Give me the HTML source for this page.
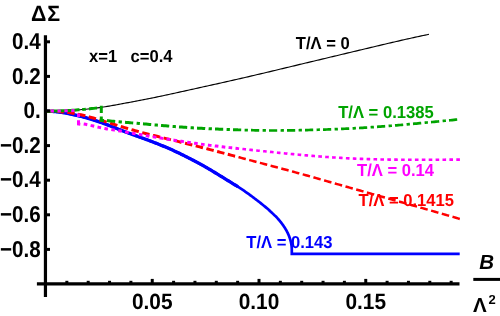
<!DOCTYPE html>
<html><head><meta charset="utf-8"><title>plot</title>
<style>
html,body{margin:0;padding:0;background:#fff;}
body{width:500px;height:316px;overflow:hidden;}
svg{display:block;will-change:transform;font-family:"Liberation Sans",sans-serif;font-weight:bold;text-rendering:geometricPrecision;}
.tk{font-size:21.5px;fill:#000;}
.lb{font-size:16.6px;}
</style></head><body>
<svg width="500" height="316" viewBox="0 0 500 316">
<g fill="none" stroke-linejoin="miter">
<path d="M45.50,111.20 L47.43,111.19 L49.35,111.17 L51.28,111.14 L53.21,111.10 L55.14,111.05 L57.06,111.00 L58.99,110.94 L60.92,110.87 L62.84,110.79 L64.77,110.70 L66.70,110.60 L68.63,110.50 L70.55,110.39 L72.48,110.27 L74.41,110.14 L76.33,110.01 L78.26,109.86 L80.19,109.71 L82.12,109.55 L84.04,109.38 L85.97,109.20 L87.90,109.01 L89.82,108.81 L91.75,108.60 L93.68,108.37 L95.61,108.13 L97.53,107.88 L99.46,107.62 L101.39,107.34 L103.31,107.05 L105.24,106.75 L107.17,106.43 L109.10,106.11 L111.02,105.77 L112.95,105.43 L114.88,105.08 L116.80,104.73 L118.73,104.37 L120.66,104.01 L122.59,103.65 L124.51,103.29 L126.44,102.93 L128.37,102.58 L130.29,102.22 L132.22,101.86 L134.15,101.50 L136.08,101.14 L138.00,100.78 L139.93,100.41 L141.86,100.04 L143.78,99.67 L145.71,99.29 L147.64,98.90 L149.57,98.51 L151.49,98.12 L153.42,97.73 L155.35,97.33 L157.27,96.93 L159.20,96.52 L161.13,96.11 L163.06,95.70 L164.98,95.29 L166.91,94.87 L168.84,94.46 L170.76,94.04 L172.69,93.62 L174.62,93.20 L176.55,92.77 L178.47,92.35 L180.40,91.92 L182.33,91.50 L184.25,91.07 L186.18,90.65 L188.11,90.22 L190.04,89.79 L191.96,89.37 L193.89,88.94 L195.82,88.51 L197.74,88.09 L199.67,87.66 L201.60,87.24 L203.53,86.81 L205.45,86.38 L207.38,85.96 L209.31,85.53 L211.23,85.10 L213.16,84.67 L215.09,84.25 L217.02,83.82 L218.94,83.39 L220.87,82.96 L222.80,82.52 L224.72,82.09 L226.65,81.66 L228.58,81.23 L230.51,80.79 L232.43,80.35 L234.36,79.92 L236.29,79.48 L238.21,79.04 L240.14,78.60 L242.07,78.15 L243.99,77.71 L245.92,77.26 L247.85,76.82 L249.78,76.37 L251.70,75.92 L253.63,75.47 L255.56,75.02 L257.48,74.56 L259.41,74.11 L261.34,73.65 L263.27,73.20 L265.19,72.74 L267.12,72.29 L269.05,71.83 L270.97,71.37 L272.90,70.91 L274.83,70.45 L276.76,69.99 L278.68,69.52 L280.61,69.06 L282.54,68.60 L284.46,68.14 L286.39,67.67 L288.32,67.21 L290.25,66.74 L292.17,66.28 L294.10,65.82 L296.03,65.35 L297.95,64.89 L299.88,64.43 L301.81,63.97 L303.74,63.50 L305.66,63.04 L307.59,62.58 L309.52,62.12 L311.44,61.66 L313.37,61.20 L315.30,60.74 L317.23,60.28 L319.15,59.82 L321.08,59.36 L323.01,58.90 L324.93,58.44 L326.86,57.98 L328.79,57.52 L330.72,57.06 L332.64,56.60 L334.57,56.14 L336.50,55.69 L338.42,55.23 L340.35,54.77 L342.28,54.31 L344.21,53.85 L346.13,53.39 L348.06,52.93 L349.99,52.48 L351.91,52.02 L353.84,51.56 L355.77,51.10 L357.70,50.64 L359.62,50.18 L361.55,49.72 L363.48,49.26 L365.40,48.80 L367.33,48.34 L369.26,47.88 L371.19,47.42 L373.11,46.96 L375.04,46.51 L376.97,46.05 L378.89,45.59 L380.82,45.13 L382.75,44.67 L384.68,44.22 L386.60,43.76 L388.53,43.31 L390.46,42.86 L392.38,42.41 L394.31,41.96 L396.24,41.51 L398.17,41.07 L400.09,40.62 L402.02,40.18 L403.95,39.74 L405.87,39.31 L407.80,38.87 L409.73,38.44 L411.66,38.01 L413.58,37.59 L415.51,37.16 L417.44,36.75 L419.36,36.33 L421.29,35.92 L423.22,35.51 L425.15,35.10 L427.07,34.70 L429.00,34.30" stroke="#000" stroke-width="1.15"/>
<path d="M45.50,111.20 L46.65,111.20 L47.80,111.21 L48.95,111.24 L50.10,111.28 L51.25,111.34 L52.40,111.41 L53.54,111.49 L54.69,111.59 L55.84,111.70 L56.99,111.82 L58.14,111.96 L59.29,112.10 L60.44,112.26 L61.59,112.43 L62.74,112.61 L63.89,112.79 L65.04,112.99 L66.19,113.19 L67.34,113.40 L68.48,113.63 L69.63,113.85 L70.78,114.09 L71.93,114.33 L73.08,114.58 L74.23,114.83 L75.38,115.09 L76.53,115.35 L77.68,115.62 L78.83,115.89 L79.98,116.17 L81.13,116.45 L82.28,116.74 L83.43,117.04 L84.57,117.35 L85.72,117.66 L86.87,117.98 L88.02,118.31 L89.17,118.64 L90.32,118.98 L91.47,119.33 L92.62,119.69 L93.77,120.06 L94.92,120.43 L96.07,120.81 L97.22,121.19 L98.37,121.58 L99.51,121.98 L100.66,122.38 L101.81,122.79 L102.96,123.20 L104.11,123.62 L105.26,124.04 L106.41,124.47 L107.56,124.90 L108.71,125.34 L109.86,125.78 L111.01,126.23 L112.16,126.67 L113.31,127.13 L114.45,127.58 L115.60,128.04 L116.75,128.50 L117.90,128.96 L119.05,129.42 L120.20,129.88 L121.35,130.33 L122.50,130.77 L123.65,131.22 L124.80,131.65 L125.95,132.08 L127.10,132.51 L128.25,132.94 L129.39,133.36 L130.54,133.78 L131.69,134.20 L132.84,134.62 L133.99,135.03 L135.14,135.45 L136.29,135.86 L137.44,136.28 L138.59,136.69 L139.74,137.11 L140.89,137.52 L142.04,137.94 L143.19,138.36 L144.34,138.78 L145.48,139.20 L146.63,139.63 L147.78,140.05 L148.93,140.48 L150.08,140.91 L151.23,141.35 L152.38,141.79 L153.53,142.23 L154.68,142.67 L155.83,143.12 L156.98,143.57 L158.13,144.02 L159.28,144.48 L160.42,144.95 L161.57,145.41 L162.72,145.88 L163.87,146.36 L165.02,146.84 L166.17,147.33 L167.32,147.82 L168.47,148.32 L169.62,148.82 L170.77,149.33 L171.92,149.84 L173.07,150.36 L174.22,150.89 L175.36,151.42 L176.51,151.96 L177.66,152.50 L178.81,153.06 L179.96,153.61 L181.11,154.17 L182.26,154.74 L183.41,155.31 L184.56,155.88 L185.71,156.46 L186.86,157.04 L188.01,157.62 L189.16,158.21 L190.31,158.79 L191.45,159.38 L192.60,159.98 L193.75,160.57 L194.90,161.17 L196.05,161.78 L197.20,162.39 L198.35,163.00 L199.50,163.62 L200.65,164.25 L201.80,164.89 L202.95,165.53 L204.10,166.18 L205.25,166.84 L206.39,167.50 L207.54,168.17 L208.69,168.84 L209.84,169.52 L210.99,170.20 L212.14,170.89 L213.29,171.58 L214.44,172.28 L215.59,172.98 L216.74,173.68 L217.89,174.38 L219.04,175.09 L220.19,175.79 L221.33,176.50 L222.48,177.20 L223.63,177.91 L224.78,178.62 L225.93,179.32 L227.08,180.03 L228.23,180.73 L229.38,181.44 L230.53,182.14 L231.68,182.85 L232.83,183.57 L233.98,184.28 L235.13,185.00 L236.27,185.73 L237.42,186.46 L238.57,187.19 L239.72,187.94 L240.87,188.69 L242.02,189.45 L243.17,190.22 L244.32,190.99 L245.47,191.78 L246.62,192.58 L247.77,193.39 L248.92,194.21 L250.07,195.05 L251.22,195.90 L252.36,196.75 L253.51,197.62 L254.66,198.49 L255.81,199.37 L256.96,200.25 L258.11,201.13 L259.26,202.02 L260.41,202.92 L261.56,203.82 L262.71,204.74 L263.86,205.68 L265.01,206.63 L266.16,207.59 L267.30,208.58 L268.45,209.59 L269.60,210.62 L270.75,211.67 L271.90,212.75 L273.05,213.86 L274.20,215.00 L275.29,215.90 L276.14,216.79 L276.98,217.69 L277.79,218.59 L278.58,219.49 L279.35,220.38 L280.09,221.28 L280.81,222.18 L281.51,223.08 L282.18,223.97 L282.83,224.87 L283.46,225.77 L284.07,226.67 L284.65,227.56 L285.21,228.46 L285.75,229.36 L286.26,230.26 L286.76,231.15 L287.23,232.05 L287.67,232.95 L288.09,233.85 L288.49,234.74 L288.87,235.64 L289.23,236.54 L289.56,237.44 L289.87,238.33 L290.15,239.23 L290.42,240.13 L290.66,241.03 L290.87,241.92 L291.07,242.82 L291.24,243.72 L291.39,244.62 L291.51,245.51 L291.62,246.41 L291.70,247.31 L291.75,248.21 L291.79,249.10 L291.80,250.00 L291.80,253.80 L459.70,253.80" stroke="#0000ff" stroke-width="2.7"/>
<path d="M45.50,111.20 L46.65,111.20 L47.80,111.21 L48.95,111.24 L50.10,111.28 L51.25,111.34 L52.40,111.41 L53.54,111.49 L54.69,111.59 L55.84,111.70 L56.99,111.82 L58.14,111.96 L59.29,112.10 L60.44,112.26 L61.59,112.43 L62.74,112.61 L63.89,112.79 L65.04,112.99 L66.19,113.19 L67.34,113.40 L68.48,113.63 L69.63,113.85 L70.78,114.09 L71.93,114.33 L73.08,114.58 L74.23,114.83 L75.38,115.09 L76.53,115.35 L77.68,115.62 L78.83,115.89 L79.98,116.17 L81.13,116.45 L82.28,116.74 L83.43,117.04 L84.57,117.35 L85.72,117.66 L86.87,117.98 L88.02,118.31 L89.17,118.64 L90.32,118.98 L91.47,119.33 L92.62,119.69 L93.77,120.06 L94.92,120.43 L96.07,120.81 L97.22,121.19 L98.37,121.58 L99.51,121.98 L100.66,122.38 L101.81,122.79 L102.96,123.20 L104.11,123.62 L105.26,124.04 L106.41,124.47 L107.56,124.90 L108.71,125.34 L109.86,125.78 L111.01,126.23 L112.16,126.67 L113.31,127.13 L114.45,127.58 L115.60,128.04 L116.75,128.50 L117.90,128.96 L119.05,129.42 L120.20,129.88 L121.35,130.33 L122.50,130.77 L123.65,131.22 L124.80,131.65 L125.95,132.08 L127.10,132.51 L128.25,132.94 L129.39,133.36 L130.54,133.78 L131.69,134.20 L132.84,134.62 L133.99,135.03 L135.14,135.45 L136.29,135.86 L137.44,136.28 L138.59,136.69 L139.74,137.11 L140.89,137.52 L142.04,137.94 L143.19,138.36 L144.34,138.78 L145.48,139.20 L146.63,139.63 L147.78,140.05 L148.93,140.48 L150.08,140.91 L151.23,141.35 L152.38,141.79 L153.53,142.23 L154.68,142.67 L155.83,143.12 L156.98,143.57 L158.13,144.02 L159.28,144.48 L160.42,144.95 L161.57,145.41 L162.72,145.88 L163.87,146.36 L165.02,146.84 L166.17,147.33 L167.32,147.82 L168.47,148.32 L169.62,148.82 L170.77,149.33 L171.92,149.84 L173.07,150.36 L174.22,150.89 L175.36,151.42 L176.51,151.96 L177.66,152.50 L178.81,153.06 L179.96,153.61 L181.11,154.17 L182.26,154.74 L183.41,155.31 L184.56,155.88 L185.71,156.46 L186.86,157.04 L188.01,157.62 L189.16,158.21 L190.31,158.79 L191.45,159.38 L192.60,159.98 L193.75,160.57 L194.90,161.17 L196.05,161.78 L197.20,162.39 L198.35,163.00 L199.50,163.62 L200.65,164.25 L201.80,164.89 L202.95,165.53 L204.10,166.18 L205.25,166.84 L206.39,167.50 L207.54,168.17 L208.69,168.84 L209.84,169.52 L210.99,170.20 L212.14,170.89 L213.29,171.58 L214.44,172.28 L215.59,172.98 L216.74,173.68 L217.89,174.38 L219.04,175.09 L220.19,175.79 L221.33,176.50 L222.48,177.20 L223.63,177.91 L224.78,178.62 L225.93,179.32 L227.08,180.03 L228.23,180.73 L229.38,181.44 L230.53,182.14 L231.68,182.85 L232.83,183.57 L233.98,184.28 L235.13,185.00 L236.27,185.73 L237.42,186.46 L238.00,186.83" stroke="#0000ff" stroke-width="3.3"/>
<path d="M45.90,111.20 L47.58,111.20 L49.67,111.22 L51.75,111.26 L53.20,111.31 M56.60,111.47 L58.00,111.56 L60.08,111.71 L62.16,111.88 L63.90,112.06 M67.30,112.45 L68.41,112.59 L70.49,112.88 L72.58,113.20 L74.60,113.54 M78.00,114.19 L78.83,114.35 L80.91,114.80 L82.99,115.28 L85.08,115.78 L85.30,115.84 M88.70,116.73 L89.24,116.87 L91.32,117.45 L93.41,118.04 L95.49,118.65 L96.00,118.80 M99.40,119.82 L99.66,119.90 L101.74,120.53 L103.82,121.17 L105.90,121.82 L106.70,122.07 M110.10,123.13 L112.15,123.77 L114.24,124.42 L116.32,125.07 L117.40,125.40 M120.80,126.44 L122.57,126.98 L124.65,127.61 L126.73,128.23 L128.10,128.63 M131.50,129.62 L132.98,130.05 L135.07,130.64 L137.15,131.22 L138.80,131.67 M142.20,132.59 L143.40,132.91 L145.48,133.45 L147.56,133.99 L149.50,134.48 M152.90,135.33 L153.81,135.56 L155.89,136.07 L157.98,136.58 L160.06,137.09 L160.20,137.12 M163.60,137.95 L164.23,138.10 L166.31,138.61 L168.39,139.11 L170.47,139.62 L170.90,139.72 M174.30,140.55 L174.64,140.63 L176.72,141.14 L178.81,141.66 L180.89,142.17 L181.60,142.35 M185.00,143.20 L185.06,143.21 L187.14,143.73 L189.22,144.26 L191.30,144.78 L192.30,145.03 M195.70,145.90 L197.55,146.37 L199.64,146.91 L201.72,147.44 L203.00,147.77 M206.40,148.65 L207.97,149.06 L210.05,149.61 L212.13,150.15 L213.70,150.56 M217.10,151.46 L218.38,151.79 L220.46,152.34 L222.55,152.90 L224.40,153.39 M227.80,154.29 L228.80,154.55 L230.88,155.11 L232.96,155.66 L235.05,156.22 L235.10,156.23" stroke="#ff0000" stroke-width="3"/>
<path d="M238.50,157.14 L239.21,157.33 L241.29,157.88 L243.38,158.44 L245.46,158.99 L245.80,159.08 M249.20,159.99 L249.63,160.10 L251.71,160.65 L253.79,161.21 L255.87,161.76 L256.50,161.92 M259.90,162.83 L260.04,162.86 L262.12,163.41 L264.21,163.97 L266.29,164.52 L267.20,164.76 M270.60,165.66 L272.54,166.18 L274.62,166.73 L276.70,167.29 L277.90,167.61 M281.30,168.52 L282.95,168.96 L285.04,169.52 L287.12,170.08 L288.60,170.49 M292.00,171.41 L293.37,171.78 L295.45,172.35 L297.53,172.92 L299.30,173.41 M302.70,174.35 L303.78,174.65 L305.86,175.23 L307.95,175.81 L310.00,176.39 M313.40,177.34 L314.20,177.57 L316.28,178.16 L318.36,178.75 L320.44,179.34 L320.70,179.41 M324.10,180.38 L324.61,180.52 L326.69,181.11 L328.78,181.71 L330.86,182.30 L331.40,182.45 M334.80,183.42 L335.03,183.49 L337.11,184.08 L339.19,184.67 L341.27,185.26 L342.10,185.50 M345.50,186.46 L347.52,187.03 L349.61,187.62 L351.69,188.21 L352.80,188.52 M356.20,189.48 L357.94,189.97 L360.02,190.56 L362.10,191.15 L363.50,191.54 M366.90,192.50 L368.35,192.90 L370.43,193.49 L372.52,194.08 L374.20,194.55 M377.60,195.50 L378.77,195.83 L380.85,196.42 L382.93,197.00 L384.90,197.55 M388.30,198.51 L389.18,198.76 L391.26,199.34 L393.35,199.93 L395.43,200.51 L395.60,200.56 M399.00,201.52 L399.60,201.69 L401.68,202.27 L403.76,202.86 L405.84,203.45 L406.30,203.58 M409.70,204.54 L410.01,204.62 L412.09,205.21 L414.18,205.80 L416.26,206.39 L417.00,206.60 M420.40,207.57 L420.42,207.58 L422.51,208.17 L424.59,208.76 L426.67,209.36 L427.70,209.65 M431.10,210.62 L432.92,211.14 L435.01,211.74 L437.09,212.34 L438.40,212.72 M441.80,213.70 L443.34,214.14 L445.42,214.75 L447.50,215.35 L449.10,215.81 M452.50,216.80 L453.75,217.17 L455.83,217.78 L457.92,218.39 L459.80,218.94" stroke="#ff0000" stroke-width="2.5"/>
<path d="M47.00,111.19 L47.43,111.19 L49.35,111.17 L51.28,111.14 L53.21,111.10 L55.14,111.05 L57.06,111.00 L58.99,110.94 L60.92,110.87 L62.84,110.79 L64.77,110.70 L66.70,110.60 L68.63,110.50 L70.55,110.39 L72.48,110.27 L74.41,110.14 L76.33,110.01 L78.26,109.86 L79.50,109.77 M82.20,109.54 L84.04,109.38 L85.80,109.22 M89.00,108.90 L89.82,108.81 L91.75,108.60 L93.68,108.37 L95.61,108.13 L97.00,107.95 M101.3,105.8 L101.3,113 M101.3,116.4 L101.3,120.3 L104,120.4 M107.00,120.61 L108.46,120.76 L110.25,120.94 L112.04,121.12 L113.83,121.29 L115.20,121.42 M118.60,121.73 L119.20,121.79 L120.99,121.95 L121.90,122.03 M125.00,122.30 L126.36,122.42 L128.15,122.57 L129.94,122.72 L131.73,122.87 L133.20,123.00 M136.60,123.28 L137.10,123.33 L138.89,123.48 L139.90,123.56 M143.00,123.83 L144.26,123.94 L146.05,124.09 L147.84,124.25 L149.63,124.41 L151.20,124.55 M154.60,124.85 L155.00,124.89 L156.79,125.05 L157.90,125.14 M161.00,125.42 L162.16,125.52 L163.95,125.68 L165.74,125.83 L167.53,125.99 L169.20,126.13 M172.60,126.41 L172.90,126.43 L174.69,126.58 L175.90,126.67 M179.00,126.90 L180.06,126.98 L181.85,127.11 L183.64,127.24 L185.43,127.36 L187.20,127.48 M190.60,127.70 L190.80,127.71 L192.59,127.82 L193.90,127.90 M197.00,128.08 L197.96,128.14 L199.75,128.24 L201.54,128.33 L203.33,128.43 L205.12,128.52 L205.20,128.53 M208.60,128.69 L208.70,128.70 L210.49,128.78 L211.90,128.85 M215.00,128.99 L215.86,129.02 L217.65,129.10 L219.44,129.17 L221.23,129.25 L223.02,129.32 L223.20,129.32 M226.60,129.45 L228.39,129.52 L229.90,129.57 M233.00,129.68 L233.76,129.70 L235.55,129.76 L237.34,129.82 L238.00,129.84" stroke="#00a400" stroke-width="3"/>
<path d="M238.00,129.84 L239.13,129.87 L240.92,129.93 L241.20,129.94 M244.60,130.04 L246.29,130.08 L247.90,130.13 M251.00,130.20 L251.66,130.22 L253.45,130.26 L255.24,130.30 L257.03,130.34 L258.82,130.37 L259.20,130.38 M262.60,130.43 L264.19,130.45 L265.90,130.47 M269.00,130.49 L269.56,130.50 L271.35,130.51 L273.14,130.51 L274.93,130.51 L276.72,130.51 L277.20,130.50 M280.60,130.49 L282.08,130.47 L283.87,130.46 L283.90,130.46 M287.00,130.42 L287.45,130.42 L289.24,130.39 L291.03,130.36 L292.82,130.33 L294.61,130.30 L295.20,130.29 M298.60,130.23 L299.98,130.20 L301.77,130.16 L301.90,130.16 M305.00,130.09 L305.35,130.09 L307.14,130.04 L308.93,130.00 L310.72,129.96 L312.51,129.91 L313.20,129.89 M316.60,129.80 L317.88,129.76 L319.67,129.71 L319.90,129.71 M323.00,129.61 L323.25,129.60 L325.04,129.54 L326.83,129.48 L328.62,129.42 L330.41,129.36 L331.20,129.33 M334.60,129.20 L335.78,129.15 L337.57,129.08 L337.90,129.06 M341.00,128.93 L341.15,128.92 L342.94,128.84 L344.73,128.76 L346.52,128.67 L348.31,128.59 L349.20,128.54 M352.60,128.36 L353.68,128.30 L355.47,128.21 L355.90,128.18 M359.00,128.00 L359.05,128.00 L360.84,127.89 L362.63,127.78 L364.42,127.67 L366.21,127.56 L367.20,127.49 M370.60,127.27 L371.58,127.20 L373.37,127.08 L373.90,127.04 M377.00,126.82 L378.74,126.69 L380.53,126.56 L382.32,126.43 L384.11,126.29 L385.20,126.21 M388.60,125.94 L389.48,125.87 L391.27,125.73 L391.90,125.67 M395.00,125.42 L396.64,125.28 L398.43,125.13 L400.22,124.98 L402.01,124.83 L403.20,124.72 M406.60,124.43 L407.38,124.36 L409.17,124.20 L409.90,124.13 M413.00,123.85 L414.54,123.71 L416.33,123.54 L418.12,123.38 L419.91,123.21 L421.20,123.09 M424.60,122.77 L425.28,122.70 L427.07,122.53 L427.90,122.45 M431.00,122.15 L432.44,122.01 L434.23,121.83 L436.02,121.66 L437.81,121.48 L439.20,121.34 M442.60,121.01 L443.18,120.95 L444.97,120.77 L445.90,120.67 M449.00,120.36 L450.34,120.23 L452.13,120.05 L453.92,119.86 L455.71,119.68 L457.20,119.53" stroke="#00a400" stroke-width="2.7"/>
<path d="M50.60,111.03 L53.90,110.98 M57.50,110.93 L60.00,110.90 L60.80,110.88 M64.40,110.80 L67.70,110.73 M71.20,110.65 L74.50,110.58 M78.5,113.4 L78.5,117 M78.5,120.3 L78.5,124 L80.3,124.2 M83.70,123.96 L83.76,123.97 L85.68,124.34 L87.30,124.67 M90.60,125.41 L91.44,125.61 L93.36,126.07 L94.20,126.27 M97.50,127.04 L99.13,127.41 L101.05,127.82 L101.10,127.83 M104.40,128.47 L104.89,128.56 L106.81,128.90 L108.00,129.09 M111.30,129.63 L112.57,129.83 L114.49,130.13 L114.90,130.19 M118.20,130.71 L118.33,130.73 L120.25,131.04 L121.80,131.30 M125.10,131.87 L126.02,132.04 L127.94,132.38 L128.70,132.52 M132.00,133.13 L133.70,133.44 L135.60,133.79 M138.90,134.40 L139.46,134.50 L141.38,134.85 L142.50,135.05 M145.80,135.62 L147.14,135.85 L149.06,136.18 L149.40,136.24 M152.70,136.79 L152.90,136.82 L154.82,137.13 L156.30,137.37 M159.60,137.90 L160.59,138.06 L162.51,138.36 L163.20,138.47 M166.50,138.99 L168.27,139.26 L170.10,139.55 M173.40,140.05 L174.03,140.15 L175.95,140.45 L177.00,140.61 M180.30,141.11 L181.71,141.33 L183.63,141.62 L183.90,141.66 M187.20,142.16 L187.47,142.20 L189.39,142.48 L190.80,142.69 M194.10,143.17 L195.16,143.32 L197.08,143.59 L197.70,143.68 M201.00,144.14 L202.84,144.38 L204.60,144.62 M207.90,145.05 L208.60,145.14 L210.52,145.38 L211.50,145.50 M214.80,145.91 L216.28,146.09 L218.20,146.31 L218.40,146.34 M221.70,146.72 L222.05,146.76 L223.97,146.98 L225.30,147.14 M228.60,147.51 L229.73,147.63 L231.65,147.84 L232.20,147.90 M235.50,148.26 L237.41,148.47 L238.00,148.53" stroke="#ff00ff" stroke-width="3"/>
<path d="M238.00,148.53 L239.10,148.65 M242.40,149.00 L243.17,149.08 L245.09,149.28 L246.00,149.38 M249.30,149.73 L250.85,149.89 L252.77,150.09 L252.90,150.10 M256.20,150.45 L256.62,150.49 L258.54,150.69 L259.80,150.83 M263.10,151.17 L264.30,151.29 L266.22,151.49 L266.70,151.54 M270.00,151.88 L270.06,151.89 L271.98,152.08 L273.60,152.25 M276.90,152.58 L277.74,152.67 L279.66,152.86 L280.50,152.94 M283.80,153.27 L285.43,153.43 L287.35,153.61 L287.40,153.62 M290.70,153.94 L291.19,153.98 L293.11,154.16 L294.30,154.28 M297.60,154.58 L298.87,154.70 L300.79,154.87 L301.20,154.91 M304.50,155.20 L304.63,155.21 L306.55,155.38 L308.10,155.51 M311.40,155.79 L312.31,155.87 L314.23,156.03 L315.00,156.09 M318.30,156.35 L320.00,156.48 L321.90,156.63 M325.20,156.87 L325.76,156.92 L327.68,157.05 L328.80,157.13 M332.10,157.36 L333.44,157.45 L335.36,157.57 L335.70,157.59 M339.00,157.80 L339.20,157.81 L341.12,157.92 L342.60,158.01 M345.90,158.19 L346.88,158.24 L348.81,158.34 L349.50,158.37 M352.80,158.53 L354.57,158.61 L356.40,158.69 M359.70,158.82 L360.33,158.85 L362.25,158.92 L363.30,158.96 M366.60,159.07 L368.01,159.11 L369.93,159.17 L370.20,159.18 M373.50,159.27 L373.77,159.28 L375.69,159.32 L377.10,159.36 M380.40,159.43 L381.46,159.45 L383.38,159.49 L384.00,159.50 M387.30,159.55 L389.14,159.58 L390.90,159.61 M394.20,159.65 L394.90,159.65 L396.82,159.67 L397.80,159.68 M401.10,159.71 L402.58,159.72 L404.50,159.73 L404.70,159.73 M408.00,159.75 L408.34,159.75 L410.26,159.75 L411.60,159.76 M414.90,159.76 L416.03,159.76 L417.95,159.76 L418.50,159.76 M421.80,159.76 L423.71,159.76 L425.40,159.75 M428.70,159.75 L429.47,159.74 L431.39,159.74 L432.30,159.73 M435.60,159.72 L437.15,159.71 L439.07,159.70 L439.20,159.70 M442.50,159.69 L442.91,159.69 L444.84,159.68 L446.10,159.67 M449.40,159.65 L450.60,159.65 L452.52,159.64 L453.00,159.63 M456.30,159.62 L456.36,159.62 L458.28,159.61 L459.90,159.60" stroke="#ff00ff" stroke-width="2.6"/>
</g>
<g stroke="#000" stroke-width="3.2" fill="none">
<line x1="45.45" y1="35.3" x2="45.45" y2="296.9"/>
<line x1="36.9" y1="283.9" x2="459.5" y2="283.9"/>
</g>
<g stroke="#000" stroke-width="3" fill="none">
<line x1="66.85" y1="283.9" x2="66.85" y2="280.80"/>
<line x1="88.20" y1="283.9" x2="88.20" y2="280.80"/>
<line x1="109.55" y1="283.9" x2="109.55" y2="280.80"/>
<line x1="130.90" y1="283.9" x2="130.90" y2="280.80"/>
<line x1="152.25" y1="283.9" x2="152.25" y2="278.90"/>
<line x1="173.60" y1="283.9" x2="173.60" y2="280.80"/>
<line x1="194.95" y1="283.9" x2="194.95" y2="280.80"/>
<line x1="216.30" y1="283.9" x2="216.30" y2="280.80"/>
<line x1="237.65" y1="283.9" x2="237.65" y2="280.80"/>
<line x1="259.00" y1="283.9" x2="259.00" y2="278.90"/>
<line x1="280.35" y1="283.9" x2="280.35" y2="280.80"/>
<line x1="301.70" y1="283.9" x2="301.70" y2="280.80"/>
<line x1="323.05" y1="283.9" x2="323.05" y2="280.80"/>
<line x1="344.40" y1="283.9" x2="344.40" y2="280.80"/>
<line x1="365.75" y1="283.9" x2="365.75" y2="278.90"/>
<line x1="387.10" y1="283.9" x2="387.10" y2="280.80"/>
<line x1="408.45" y1="283.9" x2="408.45" y2="280.80"/>
<line x1="429.80" y1="283.9" x2="429.80" y2="280.80"/>
<line x1="451.15" y1="283.9" x2="451.15" y2="280.80"/>
<line x1="45.5" y1="41.80" x2="50" y2="41.80"/>
<line x1="45.5" y1="76.40" x2="50" y2="76.40"/>
<line x1="45.5" y1="111.00" x2="50" y2="111.00"/>
<line x1="45.5" y1="145.60" x2="50" y2="145.60"/>
<line x1="45.5" y1="180.20" x2="50" y2="180.20"/>
<line x1="45.5" y1="214.80" x2="50" y2="214.80"/>
<line x1="45.5" y1="249.40" x2="50" y2="249.40"/>
</g>
<g class="tk">
<text transform="translate(40.8,49.00) scale(0.96,1.07)" text-anchor="end">0.4</text>
<text transform="translate(40.8,83.60) scale(0.96,1.07)" text-anchor="end">0.2</text>
<text transform="translate(40.8,118.20) scale(0.96,1.07)" text-anchor="end">0.</text>
<text transform="translate(40.8,152.80) scale(0.96,1.07)" text-anchor="end">−0.2</text>
<text transform="translate(40.8,187.40) scale(0.96,1.07)" text-anchor="end">−0.4</text>
<text transform="translate(40.8,222.00) scale(0.96,1.07)" text-anchor="end">−0.6</text>
<text transform="translate(40.8,256.60) scale(0.96,1.07)" text-anchor="end">−0.8</text>
<text transform="translate(152.25,309.2) scale(0.97,1.03)" text-anchor="middle">0.05</text>
<text transform="translate(259.00,309.2) scale(0.97,1.03)" text-anchor="middle">0.10</text>
<text transform="translate(365.75,309.2) scale(0.97,1.03)" text-anchor="middle">0.15</text>
</g>
<g class="lb">
<text transform="translate(31,20.5) scale(1,1.04)" style="font-size:21.4px;letter-spacing:0.8px">ΔΣ</text>
<text transform="translate(89,61.75) scale(1,1.045)" fill="#000">x=1</text>
<text transform="translate(130.5,61.75) scale(1,1.045)" fill="#000">c=0.4</text>
<text transform="translate(295.8,49.2) scale(1,1.045)" fill="#000">T/Λ = 0</text>
<text transform="translate(338.2,117.6) scale(1,1.045)" fill="#00a400">T/Λ = 0.1385</text>
<text transform="translate(357,175.75) scale(1,1.045)" fill="#ff00ff">T/Λ = 0.14</text>
<text transform="translate(358.5,206.25) scale(1,1.045)" fill="#ff0000">T/Λ = 0.1415</text>
<text transform="translate(246.3,248.4) scale(1,1.045)" fill="#0000ff">T/Λ = 0.143</text>
<text x="486.6" y="268.5" text-anchor="middle" font-style="italic" style="font-size:20.5px">B</text>
<text x="473" y="312" style="font-size:20.5px">Λ</text>
<text x="488.6" y="304" style="font-size:13px">2</text>
</g>
<line x1="473.3" y1="279.4" x2="500" y2="279.4" stroke="#000" stroke-width="3"/>
</svg>
</body></html>
